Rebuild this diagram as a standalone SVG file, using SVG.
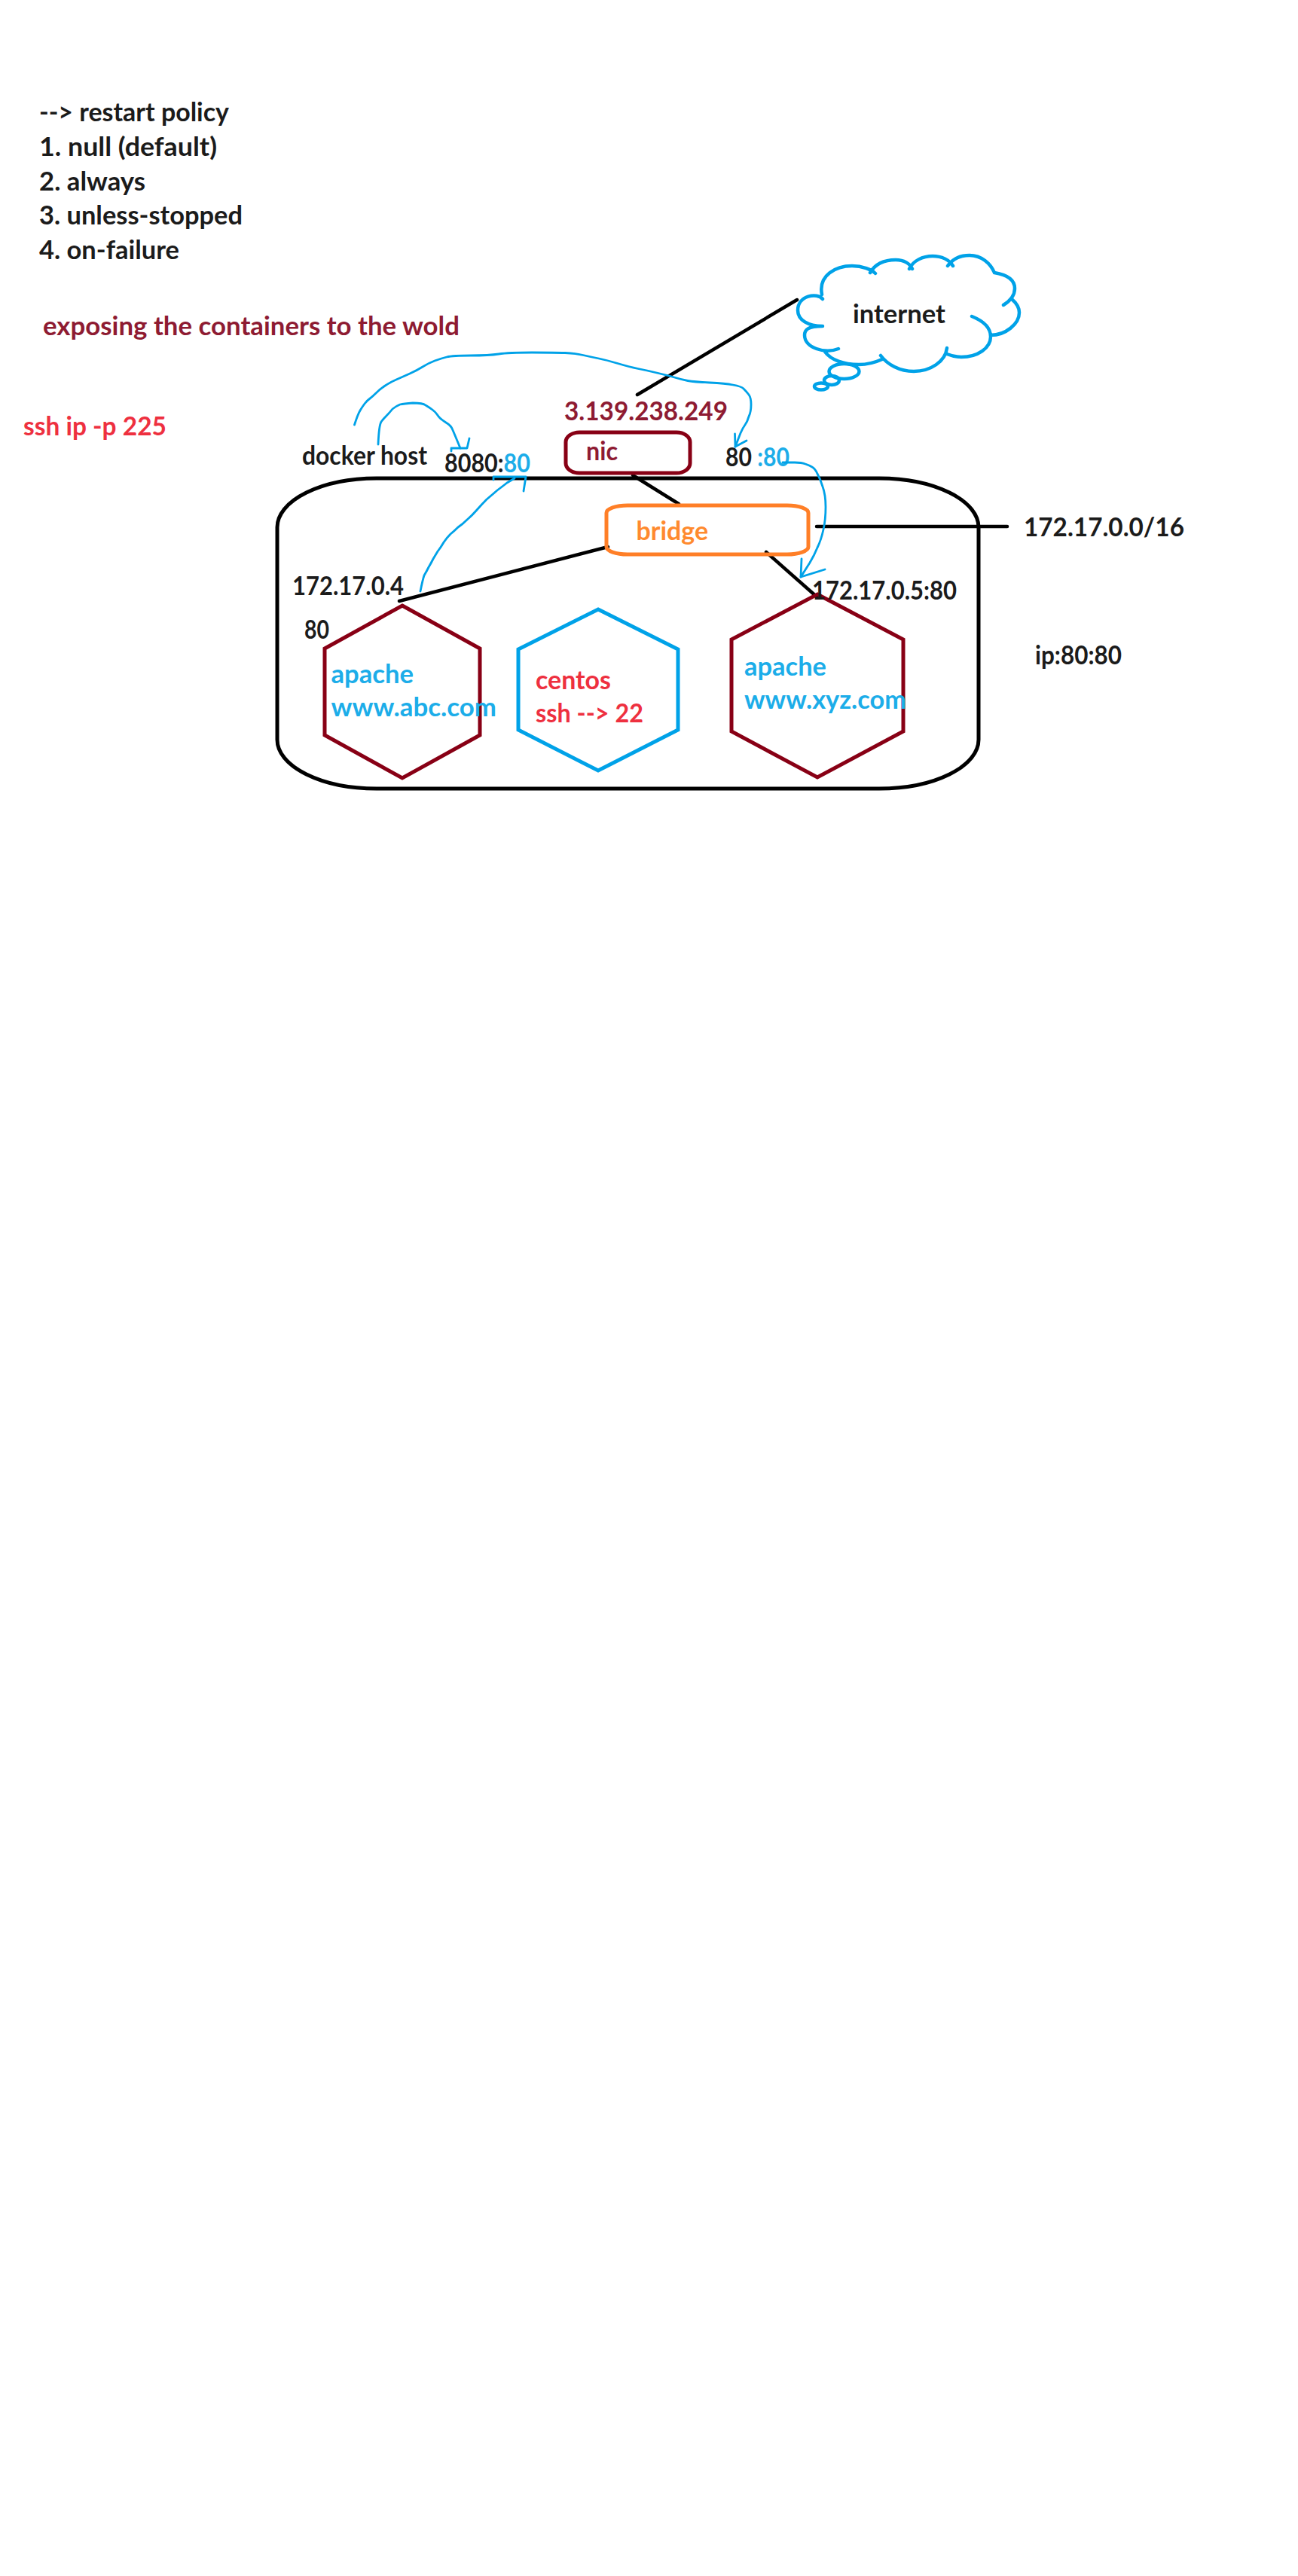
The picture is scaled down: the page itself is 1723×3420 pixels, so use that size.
<svg xmlns="http://www.w3.org/2000/svg" width="1723" height="3420" viewBox="0 0 1723 3420">
<style>
text{font-family:"Lato","Liberation Sans",sans-serif;font-size:34px;font-weight:700;fill:#1b1b1b}
.mar{fill:#8e1b32}.red{fill:#ee303f}.blue{fill:#1cade9}.ora{fill:#ff8a2e}
tspan.blue{fill:#1cade9}
.ln{fill:none;stroke:#000;stroke-width:4.5;stroke-linecap:round}
.fh{fill:none;stroke:#00a2e8;stroke-width:2.8;stroke-linejoin:round;stroke-linecap:round}
.cl{fill:none;stroke:#00a2e8;stroke-width:4.5;stroke-linecap:round}
.hm{fill:none;stroke:#880015;stroke-width:5}
.hb{fill:none;stroke:#00a2e8;stroke-width:5}
</style>
<rect width="1723" height="3420" fill="#fff"/>
<g id="notes">
<text x="52" y="161" textLength="252" lengthAdjust="spacingAndGlyphs">--&gt; restart policy</text>
<text x="52" y="207" textLength="236" lengthAdjust="spacingAndGlyphs">1. null (default)</text>
<text x="52" y="253" textLength="141" lengthAdjust="spacingAndGlyphs">2. always</text>
<text x="52" y="298" textLength="270" lengthAdjust="spacingAndGlyphs">3. unless-stopped</text>
<text x="52" y="344" textLength="186" lengthAdjust="spacingAndGlyphs">4. on-failure</text>
<text class="mar" x="57" y="445" textLength="553" lengthAdjust="spacingAndGlyphs">exposing the containers to the wold</text>
<text class="red" x="31" y="578" textLength="190" lengthAdjust="spacingAndGlyphs">ssh ip -p 225</text>
<text x="1374" y="882" textLength="115" lengthAdjust="spacingAndGlyphs">ip:80:80</text>
</g>
<g id="docker-host">
<rect x="368" y="635" width="931" height="412" rx="132" ry="65" fill="none" stroke="#000" stroke-width="5"/>
<text x="401" y="617" textLength="166" lengthAdjust="spacingAndGlyphs">docker host</text>
<text x="590" y="627" textLength="114" lengthAdjust="spacingAndGlyphs">8080:<tspan class="blue">80</tspan></text>
<text x="963" y="619" textLength="85" lengthAdjust="spacingAndGlyphs">80 <tspan class="blue">:80</tspan></text>
</g>
<g id="connectors">
<path class="ln" d="M846 524L1058 398"/>
<path class="ln" d="M840 631L901 669"/>
<path class="ln" d="M807 726L530 798"/>
<path class="ln" d="M1017 733L1085 793"/>
<path class="ln" d="M1084 699L1337 699"/>
<path class="fh" d="M470.5 564Q475 550 478 545Q481 540 484 536Q487 532 490.5 529.5Q494 527 499 522Q504 517 510.5 512.5Q517 508 526 504Q535 500 544 496Q553 492 561 487Q569 482 577 479Q585 476 593 474Q601 472 625 472Q649 472 662 470Q675 468 706 468Q738 468 750 468.5Q763 469 774 471.5Q785 474 795 476Q805 478 820 482.5Q835 487 847 489.5Q860 492 874 495.5Q889 499 897 501.5Q905 504 913 505.5Q921 507 942 508Q963 509 973 511Q984 513 987 516Q991 520 994 524Q997 528 997 537Q997 547 994 553Q992 560 989 564Q986 568 983 575L976 593"/>
<polyline class="fh" points="975.5,576 976,593 991,585"/>
<path class="fh" d="M502 590Q503 565 506 560Q509 556 513 552Q517 548 521 543Q526 539 531 537Q536 536 548 535Q561 535 565 538Q570 541 574 544Q578 547 580 550Q582 553 584 555Q586 557 592 561Q599 565 601 571Q604 578 611 595"/>
<polyline class="fh" points="599,599 599,595 620,595 623,582"/>
<path class="fh" d="M558 785Q561 770 563 764Q566 759 569 753Q572 748 575 742Q578 737 581 732Q585 727 589 720Q593 714 598 709Q603 705 608 700Q614 696 620 690Q626 685 633 677Q640 669 646 663Q652 658 660 651Q668 645 673 641L683 635"/>
<polyline class="fh" points="655,637 655,633 698,633 695,652"/>
<path class="fh" d="M1039 614L1055 614Q1064 614 1069 616Q1075 618 1078 620Q1082 622 1085 629Q1089 636 1092 646Q1096 657 1096 673Q1096 690 1093 703Q1090 717 1085 727Q1081 737 1075 747L1063 766"/>
<polyline class="fh" points="1064,742 1063,766 1095,756"/>
</g>
<g id="internet">
<path class="cl" d="M1092 397C1085 388 1059 392 1059 412C1059 425 1073 433 1092 433M1091 391C1086 365 1110 353 1131 353C1145 353 1157 358 1162 363M1155 362C1162 350 1175 345 1189 345C1200 345 1208 350 1211 357M1207 357C1212 346 1225 340 1238 340C1250 340 1260 345 1265 353M1258 353C1265 343 1275 339 1287 339C1303 339 1315 350 1320 362C1338 365 1347 372 1347 383C1347 392 1340 400 1332 405M1343 397C1350 403 1353 408 1353 415C1353 430 1335 445 1315 445M1290 420C1305 426 1315 435 1315 447C1315 462 1298 474 1276 474C1268 474 1262 472 1257 470M1257 462C1255 480 1235 493 1213 493C1194 493 1178 484 1169 472M1171 477C1160 482 1150 484 1140 484C1120 484 1103 478 1095 467M1113 463C1095 470 1068 462 1068 445C1068 438 1072 433 1092 433"/>
<ellipse class="cl" cx="1120.5" cy="493" rx="20" ry="10"/>
<ellipse class="cl" cx="1104" cy="505" rx="10" ry="6"/>
<ellipse class="cl" cx="1090" cy="513" rx="9" ry="4.5"/>
<text x="1132" y="429" textLength="123" lengthAdjust="spacingAndGlyphs">internet</text>
</g>
<g id="nic">
<rect x="751" y="574" width="165" height="54" rx="18" ry="13" fill="none" stroke="#880015" stroke-width="5"/>
<text class="mar" x="749" y="558" textLength="217" lengthAdjust="spacingAndGlyphs">3.139.238.249</text>
<text class="mar" x="778" y="611" textLength="42" lengthAdjust="spacingAndGlyphs">nic</text>
</g>
<g id="bridge">
<rect x="805" y="671" width="268" height="65" rx="28" ry="10" fill="none" stroke="#ff7f27" stroke-width="5"/>
<text class="ora" x="844.5" y="717" textLength="95.5" lengthAdjust="spacingAndGlyphs">bridge</text>
<text x="1359" y="712" textLength="213" lengthAdjust="spacingAndGlyphs">172.17.0.0/16</text>
</g>
<g id="apache-abc">
<polygon class="hm" points="534,804 637,861 637,976 534,1033 431,976 431,861"/>
<text x="388" y="790" textLength="148" lengthAdjust="spacingAndGlyphs">172.17.0.4</text>
<text x="404" y="848" textLength="33" lengthAdjust="spacingAndGlyphs">80</text>
<text class="blue" x="439.5" y="907" textLength="109.5" lengthAdjust="spacingAndGlyphs">apache</text>
<text class="blue" x="439.5" y="951" textLength="219.5" lengthAdjust="spacingAndGlyphs">www.abc.com</text>
</g>
<g id="centos">
<polygon class="hb" points="794,809 900,862 900,969 794,1023 688,969 688,862"/>
<text class="red" x="711" y="915" textLength="100" lengthAdjust="spacingAndGlyphs">centos</text>
<text class="red" x="711" y="959" textLength="143" lengthAdjust="spacingAndGlyphs">ssh --&gt; 22</text>
</g>
<g id="apache-xyz">
<polygon class="hm" points="1085,789 1199,849 1199,971 1085,1032 971,971 971,849"/>
<text x="1078" y="796" textLength="192" lengthAdjust="spacingAndGlyphs">172.17.0.5:80</text>
<text class="blue" x="988" y="897" textLength="109" lengthAdjust="spacingAndGlyphs">apache</text>
<text class="blue" x="988" y="941" textLength="215" lengthAdjust="spacingAndGlyphs">www.xyz.com</text>
</g>
</svg>
